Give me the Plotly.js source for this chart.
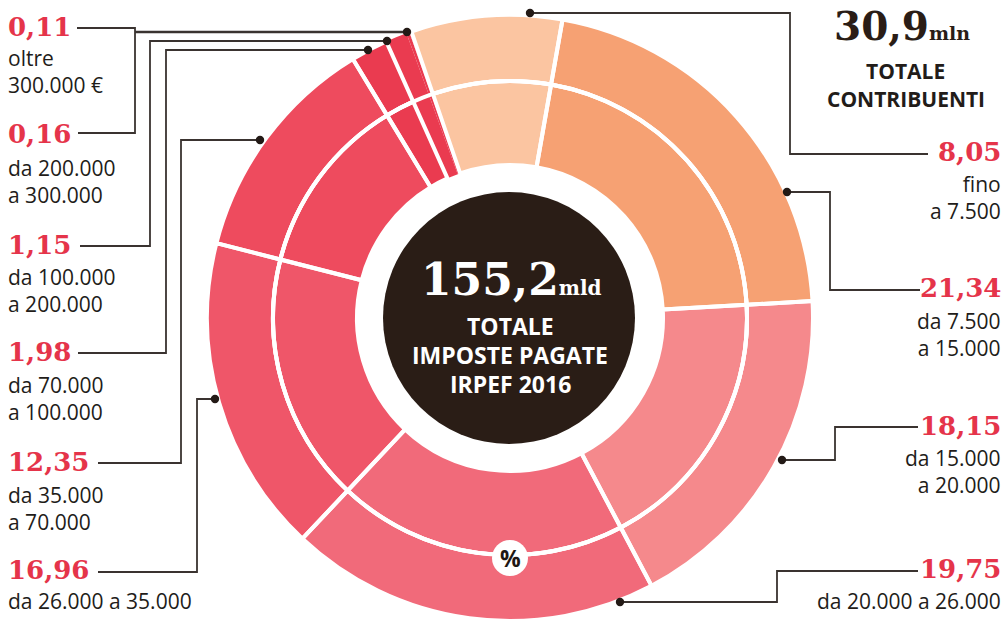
<!DOCTYPE html>
<html><head><meta charset="utf-8">
<script src="https://cdn.plot.ly/plotly-3.0.1.min.js"></script>
<style>html,body{margin:0;padding:0;background:#fff}#chart{width:1005px;height:622px}</style>
</head><body><div id="chart"></div>
<script>
// ---- data ----
const brackets = ['fino a 7.500','da 7.500 a 15.000','da 15.000 a 20.000','da 20.000 a 26.000','da 26.000 a 35.000','da 35.000 a 70.000','da 70.000 a 100.000','da 100.000 a 200.000','da 200.000 a 300.000','oltre 300.000 €'];
const shares = [8.05, 21.34, 18.15, 19.75, 16.96, 12.35, 1.98, 1.15, 0.16, 0.11];
const valueLabels = ['8,05','21,34','18,15','19,75','16,96','12,35','1,98','1,15','0,16','0,11'];
const descLines = [['fino','a 7.500'],['da 7.500','a 15.000'],['da 15.000','a 20.000'],['da 20.000 a 26.000'],['da 26.000 a 35.000'],['da 35.000','a 70.000'],['da 70.000','a 100.000'],['da 100.000','a 200.000'],['da 200.000','a 300.000'],['oltre','300.000 €']];
const totalTaxes = '155,2';
const totalTaxpayers = '30,9';

// ---- styling / layout ----
const sliceColors = ['#FBC5A1','#F6A173','#F5898C','#F16A7A','#EF5669','#EE4B5E','#EA3B50','#EA3B50','#EA3B50','#EA3B50'];
const dividerWidths = [4,4,4,4,4,4,4,0,0,0];
const W = 1005, H = 622;
const CX = 510, CY = 318, R_OUT = 303, R_MID = 237, R_IN = 153;
const px = x => x / W, py = y => 1 - y / H;
function dom(r){ return {x:[px(CX-r), px(CX+r)], y:[py(CY+r), py(CY-r)]}; }

function pieTrace(r, hole, fill, widths){
  return {
    type:'pie', values: shares, labels: brackets, sort:false, direction:'clockwise',
    rotation:-19, domain: dom(r), hole: hole, textinfo:'none', textposition:'none',
    hoverinfo: fill ? 'label+value' : 'skip', showlegend:false,
    marker:{colors: fill ? sliceColors : shares.map(()=> 'rgba(0,0,0,0)'),
            line:{color:'#ffffff', width: widths}}
  };
}
const data = [
  pieTrace(R_OUT, R_MID/R_OUT, true, 0),
  pieTrace(R_MID, R_IN/R_MID, true, 0),
  pieTrace(R_OUT, R_MID/R_OUT, false, dividerWidths),
  pieTrace(R_MID, R_IN/R_MID, false, dividerWidths)
];

const shapes = [];
function circ(x, y, r, fill, line, lw){
  shapes.push({type:'circle', xref:'paper', yref:'paper', x0:px(x-r), x1:px(x+r), y0:py(y+r), y1:py(y-r),
    fillcolor: fill, line:{color: line || 'rgba(0,0,0,0)', width: lw || 0}, layer:'above'});
}
function path(pts, lw){
  const d = pts.map((p,i)=> (i? 'L':'M') + px(p[0]).toFixed(5) + ',' + py(p[1]).toFixed(5)).join(' ');
  shapes.push({type:'path', xref:'paper', yref:'paper', path:d, line:{color:'#3A3330', width: lw || 1.8}, layer:'above'});
}
// ring divider
circ(CX, CY, R_MID, 'rgba(0,0,0,0)', '#ffffff', 4);
// centre disc
circ(509, 318, 126, '#2A1D16');
// % badge
circ(510, 558, 18, '#ffffff');

// callout lines (in data order)
const callouts = [
  {pts:[[530,13],[790,13],[790,154],[928,154]], dot:[530,13]},
  {pts:[[787,192],[830,192],[830,290],[920,290]], dot:[787,192]},
  {pts:[[782,460],[835,460],[835,427],[918,427]], dot:[782,460]},
  {pts:[[620,602],[777,602],[777,571],[918,571]], dot:[620,602]},
  {pts:[[98,572],[197,572],[197,399],[215,399]], dot:[215,399]},
  {pts:[[98,463],[181,463],[181,140],[260,140]], dot:[260,140]},
  {pts:[[78,353],[166,353],[166,50],[368,50]], dot:[368,50]},
  {pts:[[80,246],[150,246],[150,41],[387,41]], dot:[387,41]},
  {pts:[[78,133],[135,133],[135,28],[77,28]], dot:null},
  {pts:[[135,32],[407,32]], dot:[407,32], lw:2.6}
];
callouts.forEach(c => { path(c.pts, c.lw); });
callouts.forEach(c => { if(c.dot) circ(c.dot[0], c.dot[1], 4.2, '#231A16'); });

// ---- text ----
const ann = [];
const RED = '#E5344A', INK = '#221C19';
const NUMF = {family:'DejaVu Serif', size:26, color:RED};
const TXTF = {family:'Open Sans', size:21, color:INK};
function txt(t, x, y, xa, font){
  ann.push({text:t, x:px(x), y:py(y), xref:'paper', yref:'paper', xanchor:xa, yanchor:'middle', align:xa==='right'?'right':(xa==='left'?'left':'center'),
    showarrow:false, font:font, borderpad:0});
}
// label positions: [side, numberY, descCentreY]
const labelPos = [
  ['r',152,198], ['r',288,334], ['r',426,471], ['r',569,601],
  ['l',570,601], ['l',462,508], ['l',352,398], ['l',245,290],
  ['l',134,181], ['l',27,72]
];
valueLabels.forEach((v,i)=>{
  const [side, ny, dy] = labelPos[i];
  const x = side === 'r' ? 1002 : 7, xa = side === 'r' ? 'right' : 'left';
  txt('<b>'+v+'</b>', x, ny, xa, NUMF);
  txt(descLines[i].join('<br>'), x, dy, xa, TXTF);
});
// totals
txt('<b>'+totalTaxpayers+'</b><span style="font-size:19px"><b>mln</b></span>', 902, 26, 'center', {family:'DejaVu Serif', size:39, color:'#2A1D16'});
txt('<b>TOTALE</b>', 905, 71, 'center', {family:'Open Sans', size:21, color:INK});
txt('<b>CONTRIBUENTI</b>', 906, 99, 'center', {family:'Open Sans', size:21, color:INK});
txt('<b>'+totalTaxes+'</b><span style="font-size:20px"><b>mld</b></span>', 511, 279, 'center', {family:'DejaVu Serif', size:44, color:'#ffffff'});
txt('<b>TOTALE</b>', 510, 326, 'center', {family:'Open Sans', size:23, color:'#ffffff'});
txt('<b>IMPOSTE PAGATE</b>', 510, 355, 'center', {family:'Open Sans', size:23, color:'#ffffff'});
txt('<b>IRPEF 2016</b>', 510, 384, 'center', {family:'Open Sans', size:23, color:'#ffffff'});
txt('<b>%</b>', 510, 558, 'center', {family:'Open Sans', size:23, color:'#1E1714'});

const layout = {width:W, height:H, margin:{l:0,r:0,t:0,b:0}, paper_bgcolor:'#ffffff', plot_bgcolor:'#ffffff',
  showlegend:false, shapes:shapes, annotations:ann};
Plotly.newPlot('chart', data, layout, {displayModeBar:false, staticPlot:true});
</script></body></html>
